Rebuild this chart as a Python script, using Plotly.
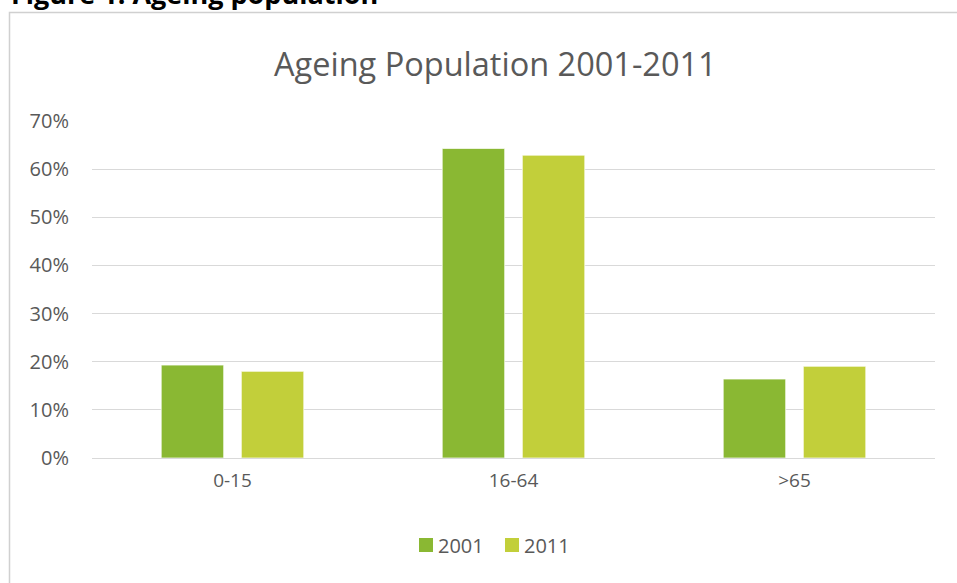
import plotly.graph_objects as go

categories = ["0-15", "16-64", ">65"]
series_names = ["2001", "2011"]
values_2001 = [0.193, 0.643, 0.164]
values_2011 = [0.180, 0.629, 0.1905]
y_ticks = [0, 0.1, 0.2, 0.3, 0.4, 0.5, 0.6, 0.7]
y_tick_labels = ["0%", "10%", "20%", "30%", "40%", "50%", "60%", "70%"]

colors = ["#8AB833", "#C2CF3A"]
FONT = "Open Sans"
GREY = "#595959"

W, H = 957, 583
ml, mr, mt, mb = 92, 22, 121, 125
pw, ph = W - ml - mr, H - mt - mb

def px_x(x):
    return (x - ml) / pw

def px_y(y):
    return 1 - (y - mt) / ph

fig = go.Figure()
for name, vals, col in zip(series_names, [values_2001, values_2011], colors):
    fig.add_trace(go.Bar(
        x=categories, y=vals, name=name, showlegend=False,
        marker=dict(color=col, line=dict(color="rgba(255,255,255,0.7)", width=1)),
    ))

fig.update_layout(
    width=W, height=H,
    margin=dict(l=ml, r=mr, t=mt, b=mb),
    paper_bgcolor="white", plot_bgcolor="white",
    barmode="group", bargap=0.43, bargroupgap=0.22,
    font=dict(family=FONT, color=GREY, size=20),
    xaxis=dict(showgrid=False, showline=False, ticks="", tickfont=dict(size=19, color=GREY),
               ticklabelstandoff=9),
    yaxis=dict(range=[0, 0.7], tickvals=y_ticks, ticktext=y_tick_labels,
               showgrid=True, gridcolor="#D9D9D9", gridwidth=1,
               zeroline=True, zerolinecolor="#D9D9D9", zerolinewidth=1,
               showline=False, ticks="", tickfont=dict(size=20, color=GREY),
               ticklabelstandoff=22),
)

# custom legend (square swatches + labels)
legend_x = [419, 505]
for name, col, lx in zip(series_names, colors, legend_x):
    fig.add_shape(type="rect", xref="paper", yref="paper",
                  x0=px_x(lx), x1=px_x(lx + 14), y0=px_y(552), y1=px_y(538),
                  fillcolor=col, line=dict(width=0))
    fig.add_annotation(text=name, xref="paper", yref="paper",
                       x=px_x(lx + 17), y=px_y(545), xanchor="left", yanchor="middle",
                       showarrow=False, font=dict(family=FONT, size=20, color=GREY))

# chart title
fig.add_annotation(text="Ageing Population 2001-2011", xref="paper", yref="paper",
                   x=px_x(495), y=px_y(63), xanchor="center", yanchor="middle",
                   showarrow=False, font=dict(family=FONT, size=32.5, color=GREY))
# document heading (cut off at top)
fig.add_annotation(text="<b>Figure 1: Ageing population</b>", xref="paper", yref="paper",
                   x=px_x(9), y=px_y(-6), xanchor="left", yanchor="middle",
                   showarrow=False, font=dict(family=FONT, size=27, color="black"))

# chart border (left and top visible)
fig.add_shape(type="rect", xref="paper", yref="paper",
              x0=px_x(9.5), x1=px_x(1000), y0=px_y(12.5), y1=px_y(700),
              line=dict(color="#D0D0D0", width=1.5), fillcolor="rgba(0,0,0,0)", layer="below")

fig.write_html("out.html", config={"displayModeBar": False},
               post_script="document.body.style.margin='0px';document.body.style.padding='0px';")
